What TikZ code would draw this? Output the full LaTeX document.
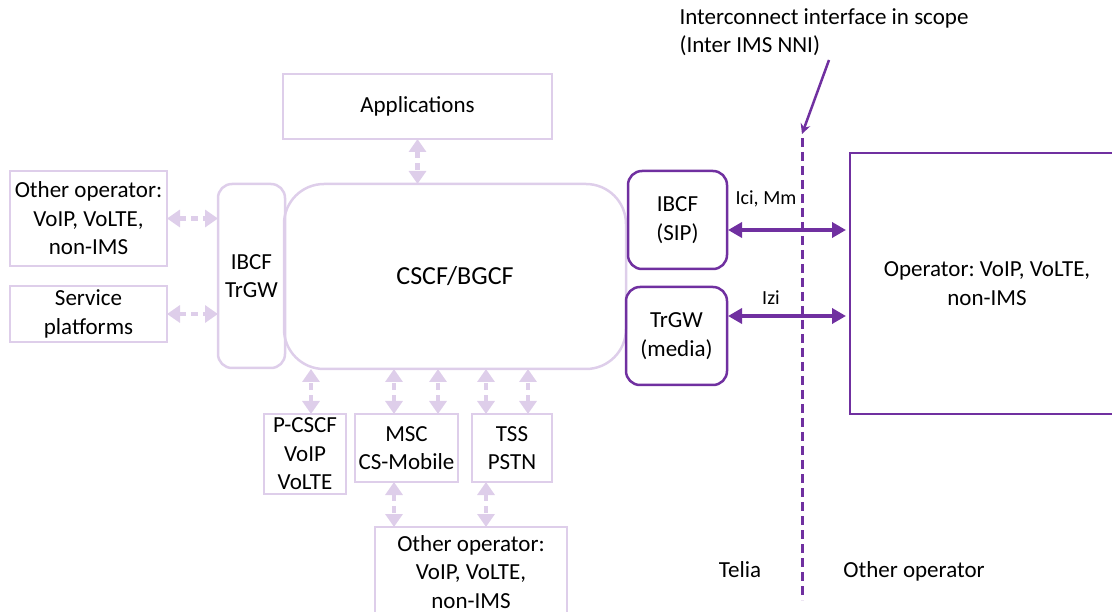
\documentclass[tikz,border=0pt]{standalone}
\usepackage{fontspec}
\setmainfont{Carlito}
\usepackage{tikz}
\usetikzlibrary{arrows.meta}
\definecolor{lav}{RGB}{222,206,234}
\definecolor{ipurple}{RGB}{112,48,160}
\newcommand\txt{\fontsize{23}{28.5}\selectfont}
\newcommand\smalltxt{\fontsize{20}{24}\selectfont}
\frenchspacing
\tikzset{
  lbox/.style={draw=lav,line width=2.5pt,align=center,inner sep=0pt,outer sep=0pt,font=\txt},
  dbox/.style={draw=ipurple,line width=2.5pt,rounded corners=14pt,align=center,inner sep=0pt,outer sep=0pt,font=\txt},
  larrow/.style={lav,line width=4.5pt,dash pattern=on 7pt off 5pt,{Triangle[width=17pt,length=13pt]}-{Triangle[width=17pt,length=13pt]}},
  darrow/.style={ipurple,line width=3.5pt,{Triangle[width=15pt,length=14pt]}-{Triangle[width=15pt,length=14pt]}}
}
\begin{document}
\begin{tikzpicture}[x=1pt,y=-1pt]
\clip (0,0) rectangle (1112,612);
\node[lbox,minimum width=269pt,minimum height=65pt] (apps) at (417.5,106.5) {Applications};
\node[lbox,rounded corners=40pt,minimum width=342pt,minimum height=185pt,font=\fontsize{26}{30}\selectfont] (cscf) at (455,276.5) {CSCF/BGCF};
\node[lbox,rounded corners=14pt,minimum width=67pt,minimum height=184pt] (ibtr) at (251.5,276) {IBCF\\TrGW};
\node[lbox,minimum width=157pt,minimum height=95pt] (oth1) at (88.5,218.5) {Other operator:\\VoIP, VoLTE,\\non-IMS};
\node[lbox,minimum width=157pt,minimum height=56pt] (serv) at (88.5,314) {Service\\platforms};
\node[lbox,minimum width=82pt,minimum height=80pt] (pcscf) at (305,454) {P-CSCF\\VoIP\\VoLTE};
\node[lbox,minimum width=103pt,minimum height=68pt] (msc) at (406.5,448) {MSC\\CS-Mobile};
\node[lbox,minimum width=80pt,minimum height=68pt] (tss) at (512,448) {TSS\\PSTN};
\node[lbox,minimum width=192pt,minimum height=90pt] (oth2) at (471,572) {Other operator:\\VoIP, VoLTE,\\non-IMS};
\draw[larrow] (apps.south) -- (apps.south |- cscf.north);
\draw[larrow] (oth1.east) -- (oth1.east -| ibtr.west);
\draw[larrow] (serv.east) -- (serv.east -| ibtr.west);
\draw[larrow] ([xshift=6pt]pcscf.north) -- ([xshift=6pt]pcscf.north |- cscf.south);
\draw[larrow] ([xshift=-12.5pt]msc.north) -- ([xshift=-12.5pt]msc.north |- cscf.south);
\draw[larrow] ([xshift=31.5pt]msc.north) -- ([xshift=31.5pt]msc.north |- cscf.south);
\draw[larrow] ([xshift=-26pt]tss.north) -- ([xshift=-26pt]tss.north |- cscf.south);
\draw[larrow] ([xshift=16pt]tss.north) -- ([xshift=16pt]tss.north |- cscf.south);
\draw[larrow] ([xshift=-12.5pt]msc.south) -- ([xshift=-12.5pt]msc.south |- oth2.north);
\draw[larrow] ([xshift=-26pt]tss.south) -- ([xshift=-26pt]tss.south |- oth2.north);
\node[dbox,minimum width=99pt,minimum height=98pt] (sip) at (677.5,220) {IBCF\\(SIP)};
\node[dbox,minimum width=101pt,minimum height=98pt] (trgw) at (676.5,336) {TrGW\\(media)};
\node[draw=ipurple,line width=2.5pt,minimum width=274pt,minimum height=261pt,align=center,font=\txt,inner sep=0pt,outer sep=0pt] (op) at (987,283.5) {Operator: VoIP, VoLTE,\\non-IMS};
\coordinate (nnitop) at (802,138);
\coordinate (nnibot) at (802,600);
\draw[ipurple,line width=3pt,dash pattern=on 9pt off 5pt] (nnitop) -- (nnibot);
\draw[darrow,shorten >=4pt,shorten <=1pt] ([yshift=-10pt]sip.east) -- ([yshift=-10pt]sip.east -| op.west);
\draw[darrow,shorten >=4pt,shorten <=1pt] ([yshift=20pt]trgw.east) -- ([yshift=20pt]trgw.east -| op.west);
\node[font=\smalltxt] (icimm) at (766,199) {Ici, Mm};
\node[font=\smalltxt] (izi) at (771,298) {Izi};
\node[font=\txt,align=left,anchor=west] (scope) at (676,32) {Interconnect interface in scope\\(Inter IMS NNI)};
\coordinate (ptr) at (829,60);
\draw[ipurple,line width=2.5pt,-{Stealth[width=10pt,length=10pt]}] (ptr) -- ([yshift=4pt]nnitop);
\node[font=\txt] (telia) at (740,570) {Telia};
\node[font=\txt] (other) at (914,571) {Other operator};
\end{tikzpicture}
\end{document}
